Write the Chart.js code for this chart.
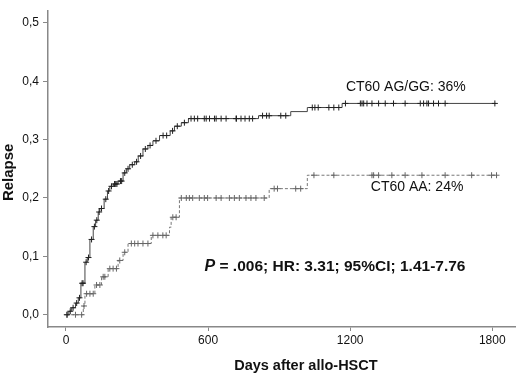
<!DOCTYPE html>
<html><head><meta charset="utf-8">
<script src="https://cdn.jsdelivr.net/npm/chart.js@4/dist/chart.umd.min.js"></script>
<style>html,body{margin:0;padding:0;background:#fff}#wrap{width:520px;height:375px}</style>
</head><body><div id="wrap"><canvas id="c" width="520" height="375"></canvas></div>
<script>
// ---- data ----
const xTicks = [0, 600, 1200, 1800];
const yTicks = [0, 0.1, 0.2, 0.3, 0.4, 0.5];

// CT60 AG/GG (solid): event steps
const agDays    = [0,12,24,40,52,63,80,90,101,115,125,136,143,161,175,185,200,220,241,255,269,290,305,325,346,367,395,440,458,487,517,813,949,1019,1166,1815];
const agRelapse = [0,0.006,0.012,0.02,0.029,0.054,0.09,0.098,0.129,0.151,0.162,0.176,0.182,0.198,0.212,0.22,0.224,0.229,0.243,0.25,0.257,0.262,0.272,0.284,0.29,0.298,0.307,0.315,0.323,0.329,0.336,0.341,0.348,0.355,0.362,0.362];
// censor marks
const agCensorDays    = [5,18,30,45,57,68,72,85,95,108,120,130,140,150,168,180,192,205,210,215,230,235,248,262,280,298,315,335,355,380,410,425,450,470,500,
  528,542,556,584,592,606,627,634,655,676,718,720,739,756,774,788,
  830,847,858,907,928,
  1040,1051,1065,1110,1131,1152,
  1180,1243,1250,1257,1271,1292,1320,1348,1383,1432,1496,1510,1524,1531,1552,1573,1601,1811];
const agCensorRelapse = [0,0.006,0.012,0.02,0.029,0.054,0.054,0.09,0.098,0.129,0.151,0.162,0.176,0.182,0.198,0.212,0.22,0.224,0.224,0.224,0.229,0.229,0.243,0.25,0.257,0.262,0.272,0.284,0.29,0.298,0.307,0.307,0.315,0.323,0.329,
  0.336,0.336,0.336,0.336,0.336,0.336,0.336,0.336,0.336,0.336,0.336,0.336,0.336,0.336,0.336,0.336,
  0.341,0.341,0.341,0.341,0.341,
  0.355,0.355,0.355,0.355,0.355,0.355,
  0.362,0.362,0.362,0.362,0.362,0.362,0.362,0.362,0.362,0.362,0.362,0.362,0.362,0.362,0.362,0.362,0.362,0.362];

// CT60 AA (dashed): event steps
const aaDays    = [0,73,80,122,150,178,220,241,262,360,437,444,479,858,1019,1818];
const aaRelapse = [0,0.015,0.036,0.051,0.065,0.079,0.093,0.107,0.122,0.136,0.15,0.167,0.2,0.216,0.239,0.239];
const aaCensorDays    = [3,40,66,76,87,101,115,129,143,157,164,185,199,213,227,248,276,290,304,325,346,367,388,409,423,451,465,
  487,508,521,535,563,584,598,634,655,690,711,732,760,781,802,837,
  879,893,970,991,
  1047,1131,1292,1299,1320,1376,1432,1503,1601,1713,1797,1818];
const aaCensorRelapse = [0,0,0,0.015,0.036,0.036,0.036,0.051,0.051,0.065,0.065,0.079,0.079,0.079,0.093,0.107,0.122,0.122,0.122,0.122,0.122,0.136,0.136,0.136,0.136,0.167,0.167,
  0.2,0.2,0.2,0.2,0.2,0.2,0.2,0.2,0.2,0.2,0.2,0.2,0.2,0.2,0.2,0.2,
  0.216,0.216,0.216,0.216,
  0.239,0.239,0.239,0.239,0.239,0.239,0.239,0.239,0.239,0.239,0.239,0.239];

const labelAG = 'CT60 AG/GG: 36%';
const labelAA = 'CT60 AA: 24%';
const statP = 'P';
const statRest = ' = .006; HR: 3.31; 95%CI; 1.41-7.76';
const xTitle = 'Days after allo-HSCT';
const yTitle = 'Relapse';

// ---- chart ----
const pts = (xs, ys) => xs.map((x, i) => ({x, y: ys[i]}));
const FONT = "'Liberation Sans', Arial, sans-serif";

const annot = {
  id: 'annot',
  afterDraw(chart) {
    const {ctx, scales: {x, y}} = chart;
    ctx.save();
    ctx.fillStyle = '#111';
    ctx.textBaseline = 'middle';
    ctx.textAlign = 'left';
    ctx.font = '14px ' + FONT;
    ctx.fillText(labelAG, x.getPixelForValue(1182), y.getPixelForValue(0.39));
    ctx.fillText(labelAA, x.getPixelForValue(1287), y.getPixelForValue(0.218));
    const px = x.getPixelForValue(585), py = y.getPixelForValue(0.082);
    ctx.font = 'italic bold 16px ' + FONT;
    ctx.fillText(statP, px, py);
    const w = ctx.measureText(statP).width;
    ctx.font = 'bold 15.5px ' + FONT;
    ctx.fillText(statRest, px + w, py);
    // axis titles
    ctx.textAlign = 'center';
    ctx.font = 'bold 14.5px ' + FONT;
    ctx.fillText(xTitle, x.getPixelForValue(1013), 366);
    ctx.translate(9, y.getPixelForValue(0.244));
    ctx.rotate(-Math.PI / 2);
    ctx.font = 'bold 15px ' + FONT;
    ctx.fillText(yTitle, 0, 0);
    ctx.restore();
  }
};

new Chart(document.getElementById('c'), {
  type: 'scatter',
  data: {
    datasets: [
      {data: pts(agDays, agRelapse), showLine: true, stepped: 'before', borderColor: '#444', borderWidth: 1, pointRadius: 0, order: 2},
      {data: pts(aaDays, aaRelapse), showLine: true, stepped: 'before', borderColor: '#777', borderWidth: 1, borderDash: [3, 2], pointRadius: 0, order: 2},
      {data: pts(agCensorDays, agCensorRelapse), showLine: false, pointStyle: 'cross', pointRadius: 3, borderColor: '#222', borderWidth: 1, order: 1},
      {data: pts(aaCensorDays, aaCensorRelapse), showLine: false, pointStyle: 'cross', pointRadius: 3, borderColor: '#666', borderWidth: 1, order: 1}
    ]
  },
  options: {
    responsive: false,
    animation: false,
    layout: {padding: {top: 2, right: 3, left: 0, bottom: 0}},
    plugins: {legend: {display: false}, tooltip: {enabled: false}},
    scales: {
      x: {
        type: 'linear', min: -76, max: 1896,
        afterBuildTicks: s => { s.ticks = xTicks.map(v => ({value: v})); },
        afterFit: s => { s.height = 48; },
        grid: {drawOnChartArea: false, color: '#888', tickLength: 4},
        border: {color: '#888', width: 1.5},
        ticks: {color: '#111', font: {family: FONT, size: 12}, padding: 2, maxRotation: 0, callback: v => String(v)}
      },
      y: {
        type: 'linear', min: -0.021, max: 0.52,
        afterBuildTicks: s => { s.ticks = yTicks.map(v => ({value: v})); },
        afterFit: s => { s.width = 48; },
        grid: {drawOnChartArea: false, color: '#888', tickLength: 5},
        border: {color: '#888', width: 1.5},
        ticks: {color: '#111', font: {family: FONT, size: 12}, padding: 4, callback: v => v.toFixed(1).replace('.', ',')}
      }
    }
  },
  plugins: [annot]
});
</script>
</body></html>
